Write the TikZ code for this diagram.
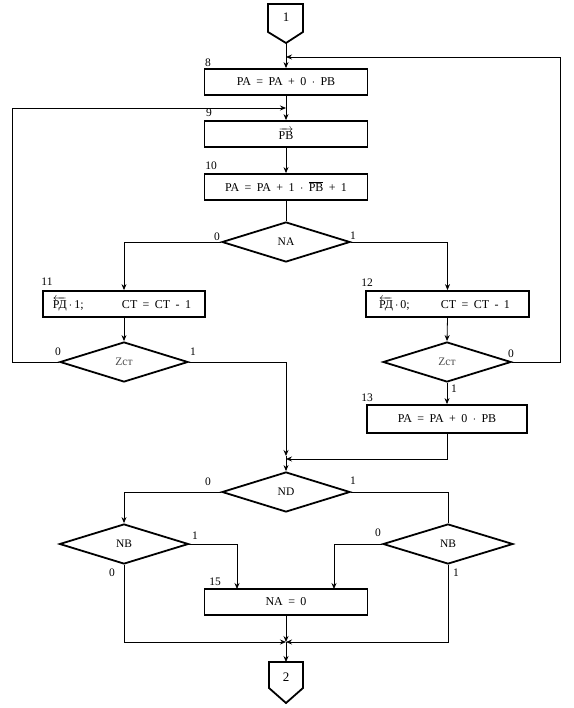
\documentclass[tikz,border=0pt]{standalone}
\usepackage{fontspec}
\setmainfont{Liberation Serif}
\usetikzlibrary{shapes.geometric,arrows.meta}
\newcommand\fgap{\hspace{0.45em}}
\tikzset{
  flow/.style={line width=0.8pt},
  arr/.style={flow,-{Stealth[length=6pt,width=5pt]}},
  opbox/.style={draw,line width=1.8pt,rectangle,minimum width=163pt,minimum height=26pt,inner sep=0pt,font=\fontsize{12}{14}\selectfont},
  cond/.style={draw,line width=1.8pt,diamond,aspect=3.2,minimum width=128pt,minimum height=40pt,inner sep=0pt,font=\fontsize{11.5}{13}\selectfont},
  conn/.style={line width=1.8pt,line join=miter},
  lbl/.style={inner sep=0pt,font=\fontsize{11.5}{13}\selectfont},
  ctext/.style={inner sep=0pt,font=\fontsize{13}{15}\selectfont}
}
\begin{document}
\begin{tikzpicture}[x=1pt,y=-1pt]
\useasboundingbox (0,0) rectangle (573,708);
% connector 1
\draw[conn] (268,4) -- (303,4) -- (303,32) -- (286,43) -- (268,32) -- cycle;
\node[ctext] (c1) at (286,17) {1};
\coordinate (c1tip) at (286,43);
% boxes
\node[opbox] (b8) at (286,82) {PA\fgap=\fgap PA\fgap+\fgap 0\fgap$\cdot$\fgap PB};
\node[lbl] (l8) at (208,63) {8};
\node[opbox] (b9) at (286,134) {$\overrightarrow{\hbox{PB}}$};
\node[lbl] (l9) at (209,113) {9};
\node[opbox] (b10) at (286,187) {PA\fgap=\fgap PA\fgap+\fgap 1\fgap$\cdot$\fgap$\overline{\hbox{PB}}$\fgap+\fgap 1};
\node[lbl] (l10) at (211,166) {10};
\node[cond] (na) at (286,242) {NA};
\node[lbl] (na0) at (217,237) {0};
\node[lbl] (na1) at (353,236) {1};
\node[opbox,minimum width=162pt] (b11) at (124,304) {\hspace{-4pt}$\overleftarrow{\hbox{РД}}$\,$\cdot$\,1;\hspace{3.2em}СТ\fgap=\fgap СТ\fgap-\fgap 1};
\node[lbl] (l11) at (47,282) {11};
\node[opbox] (b12) at (447.5,304) {\hspace{-6pt}$\overleftarrow{\hbox{РД}}$\,$\cdot$\,0;\hspace{2.6em}СТ\fgap=\fgap СТ\fgap-\fgap 1};
\node[lbl] (l12) at (367,283) {12};
\node[cond,text=black!70] (zl) at (124,362) {Zст};
\node[lbl] (zl0) at (58,352) {0};
\node[lbl] (zl1) at (193,352) {1};
\node[cond,text=black!70] (zr) at (447,362) {Zст};
\node[lbl] (zr0) at (511,354) {0};
\node[lbl] (zr1) at (454,389) {1};
\node[opbox,minimum width=160pt,minimum height=28pt] (b13) at (447,419) {PA\fgap=\fgap PA\fgap+\fgap 0\fgap$\cdot$\fgap PB};
\node[lbl] (l13) at (367,398) {13};
\node[cond] (nd) at (286,492) {ND};
\node[lbl] (nd0) at (208,482) {0};
\node[lbl] (nd1) at (353,481) {1};
\node[cond,minimum width=129pt] (nbl) at (124,544) {NB};
\node[lbl] (nbl1) at (195,536) {1};
\node[lbl] (nbl0) at (112,573) {0};
\node[cond,minimum width=130pt] (nbr) at (448,544) {NB};
\node[lbl] (nbr0) at (378,533) {0};
\node[lbl] (nbr1) at (456,573) {1};
\node[opbox] (b15) at (286,602) {NA\fgap=\fgap 0};
\node[lbl] (l15) at (215,582) {15};
% connector 2
\draw[conn] (269,662) -- (303,662) -- (303,688) -- (286,703) -- (269,688) -- cycle;
\node[ctext] (c2) at (286,677) {2};
\coordinate (c2top) at (286,662);
% helper coordinates
\coordinate (rloopin) at (286,57);
\coordinate (lloopin) at (286,108);
\coordinate (mergeA) at (286,456);
\coordinate (mergeB) at (286,459);
\coordinate (bot) at (286,642);
\coordinate (in15a) at (237,589);
\coordinate (in15b) at (334,589);
% flow
\draw[arr] (c1tip) -- (b8.north);
\draw[arr] (b8.south) -- (b9.north);
\draw[arr] (b9.south) -- (b10.north);
\draw[flow] (b10.south) -- (na.north);
\draw[arr] (na.west) -| (b11.north);
\draw[arr] (na.east) -| (b12.north);
\draw[arr] (b11.south) -- (zl.north);
\draw[arr] (b12.south) -- (zr.north);
\draw[arr] (zl.west) -- (12,362) -- (12,108) -- (lloopin);
\draw[arr] (zr.east) -- (560,362) -- (560,57) -- (rloopin);
\draw[arr] (zr.south) -- (b13.north);
\draw[arr] (b13.south) |- (mergeB);
\draw[arr] (zl.east) -| (mergeA);
\draw[arr] (mergeA) -- (nd.north);
\draw[arr] (nd.west) -| (nbl.north);
\draw[flow] (nd.east) -| (nbr.north);
\draw[arr] (nbl.east) -| (in15a);
\draw[arr] (nbr.west) -| (in15b);
\draw[arr] (nbl.south) |- (bot);
\draw[arr] (nbr.south) |- (bot);
\draw[arr] (b15.south) -- (bot);
\draw[arr] (bot) -- (c2top);
\end{tikzpicture}
\end{document}
